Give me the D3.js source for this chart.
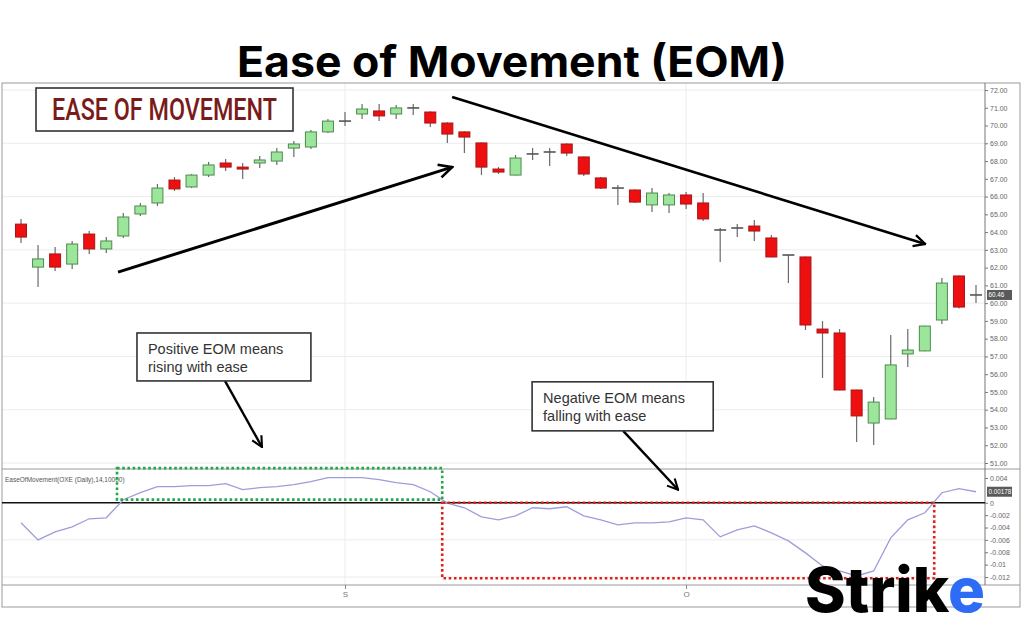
<!DOCTYPE html>
<html><head><meta charset="utf-8">
<script src="https://cdn.jsdelivr.net/npm/d3@7"></script>
<style>body{margin:0;background:#fff}svg{display:block}</style>
</head><body><svg id="c" width="1024" height="640"></svg>
<script>
// ---------- DATA ----------
const open  = [64.45,62.03,62.77,62.20,63.89,63.05,63.78,65.02,65.64,66.93,66.54,67.21,67.89,67.66,67.89,68.00,68.73,68.79,69.64,70.25,70.65,70.82,70.65,70.99,70.76,70.14,69.64,69.02,67.55,67.21,68.40,68.51,68.96,68.23,67.05,66.48,66.37,65.53,65.53,66.09,65.64,64.12,64.23,64.34,63.67,62.71,62.60,58.54,58.32,55.11,53.25,53.48,57.14,57.31,59.05,61.53,60.46];
const high  = [64.74,63.27,63.16,63.50,64.06,63.72,65.08,65.64,66.71,67.10,67.27,67.95,68.12,67.89,68.28,68.73,69.13,69.75,70.37,70.76,71.21,71.21,71.16,71.21,70.80,70.18,69.68,69.05,67.66,68.34,68.73,68.73,69.00,68.26,67.10,66.65,66.40,66.48,66.20,66.26,66.20,64.23,64.46,64.68,63.84,62.72,62.62,58.99,58.54,55.13,54.72,58.21,58.54,58.73,61.42,61.55,61.02];
const low   = [63.39,60.91,61.81,61.92,62.77,62.82,63.67,64.91,65.47,66.31,66.48,67.10,67.44,66.99,67.61,67.78,68.23,68.68,69.58,69.97,70.37,70.25,70.37,70.59,69.92,69.02,68.45,67.21,67.27,67.19,68.06,67.72,68.28,67.16,66.43,65.53,65.64,65.13,65.08,65.30,64.62,62.32,63.72,63.50,62.58,61.13,58.49,55.79,55.09,52.18,52.01,53.46,56.40,57.29,58.83,59.70,60.01];
const close = [63.72,62.49,62.03,63.33,63.05,63.50,64.85,65.47,66.48,66.43,67.21,67.78,67.66,67.55,68.06,68.51,68.96,69.64,70.25,70.25,70.93,70.54,70.99,70.99,70.14,69.52,69.35,67.66,67.38,68.17,68.40,68.51,68.45,67.27,66.48,66.48,65.69,66.20,66.09,65.58,64.74,64.12,64.23,64.06,62.60,62.71,58.77,58.32,55.11,53.65,54.43,56.52,57.36,58.71,61.13,59.78,60.46];
// Ease of Movement, in units of 0.001
const eomMilli = [-3.24,-6.00,-4.70,-3.89,-2.59,-2.43,0.49,1.62,2.59,2.59,2.76,2.76,3.08,2.11,2.43,2.59,2.92,3.40,4.05,4.05,4.05,3.73,3.24,2.92,1.78,-0.05,-0.81,-2.27,-2.76,-2.11,-0.81,-0.97,-0.65,-2.11,-2.76,-3.57,-3.24,-3.24,-3.08,-2.43,-2.76,-5.51,-4.38,-3.73,-4.86,-6.16,-8.10,-10.21,-11.02,-11.83,-11.02,-5.67,-2.76,-1.62,1.62,2.27,1.78];
const priceTicks = d3.range(51, 73, 1);
const eomTicks = [0.004, 0, -0.002, -0.004, -0.006, -0.008, -0.01, -0.012];
const monthTickIdx = [19, 39];
const monthLabels = ["S", "O"];
const title = "Ease of Movement (EOM)";
const badge = "EASE OF MOVEMENT";
const eomLabel = "EaseOfMovement(OXE (Daily),14,10000)";
const posNote = ["Positive EOM means", "rising with ease"];
const negNote = ["Negative EOM means", "falling with ease"];

// ---------- SCALES ----------
const svg = d3.select("#c");
const n = close.length;
const x = d3.scaleLinear().domain([0, n - 1]).range([21, 976]);
const yP = d3.scaleLinear().domain([51, 72]).range([463, 90]);
const yE = d3.scaleLinear().domain([-0.012, 0.004]).range([577, 478]);
const eom = eomMilli.map(v => v / 1000);
const axisX = 985, L = 2, R = 1020, topY = 83, sep = 469, eBot = 585, fBot = 607;

svg.append("rect").attr("width", 1024).attr("height", 640).attr("fill", "#fff");

// title
svg.append("text").attr("x", 512).attr("y", 77).attr("text-anchor", "middle")
  .attr("font-family", "Inter, 'Open Sans', sans-serif").attr("font-weight", 700)
  .attr("font-size", 43).attr("fill", "#000")
  .attr("textLength", 550).attr("lengthAdjust", "spacingAndGlyphs").text(title);

// grid
const g = svg.append("g");
g.selectAll(".hg").data(d3.range(51, 73, 3)).join("line")
  .attr("x1", L).attr("x2", axisX).attr("y1", d => yP(d)).attr("y2", d => yP(d))
  .attr("stroke", "#ececec");
g.selectAll(".eg").data([-0.006, -0.012]).join("line")
  .attr("x1", L).attr("x2", axisX).attr("y1", d => yE(d)).attr("y2", d => yE(d))
  .attr("stroke", "#ececec");
g.selectAll(".vg").data(monthTickIdx).join("line")
  .attr("x1", d => x(d)).attr("x2", d => x(d)).attr("y1", topY).attr("y2", eBot)
  .attr("stroke", "#ececec");

// frame
const fr = svg.append("g").attr("stroke", "#9a9a9a").attr("fill", "none");
fr.append("rect").attr("x", L).attr("y", topY).attr("width", R - L).attr("height", fBot - topY);
fr.append("line").attr("x1", L).attr("x2", R).attr("y1", sep).attr("y2", sep);
fr.append("line").attr("x1", L).attr("x2", R).attr("y1", eBot).attr("y2", eBot);

// price axis
const pa = svg.append("g").attr("transform", `translate(${axisX},0)`)
  .call(d3.axisRight(yP).tickValues(priceTicks).tickFormat(d3.format(".2f")).tickSize(3).tickPadding(2));
pa.select(".domain").attr("d", `M0,${topY}V${sep}`).attr("stroke", "#777");
pa.selectAll("line").attr("stroke", "#777");
pa.selectAll("text").attr("font-family", "'Liberation Sans', Arial, sans-serif").attr("font-size", 7).attr("fill", "#666");

// eom axis
const fmtE = d => d === 0 ? "0" : String(+d.toFixed(3));
const ea = svg.append("g").attr("transform", `translate(${axisX},0)`)
  .call(d3.axisRight(yE).tickValues(eomTicks).tickFormat(fmtE).tickSize(3).tickPadding(2));
ea.select(".domain").attr("d", `M0,${sep}V${eBot}`).attr("stroke", "#777");
ea.selectAll("line").attr("stroke", "#777");
ea.selectAll("text").attr("font-family", "'Liberation Sans', Arial, sans-serif").attr("font-size", 7).attr("fill", "#666");

// bottom axis
const ba = svg.append("g").attr("transform", `translate(0,${eBot})`)
  .call(d3.axisBottom(x).tickValues(monthTickIdx).tickFormat((d, i) => monthLabels[i]).tickSize(4).tickPadding(2));
ba.select(".domain").remove();
ba.selectAll("line").attr("stroke", "#888");
ba.selectAll("text").attr("font-family", "'Liberation Sans', Arial, sans-serif").attr("font-size", 8).attr("fill", "#777");

// candles
const idx = d3.range(n);
const cg = svg.append("g");
cg.selectAll(".wick").data(idx).join("line")
  .attr("x1", i => x(i)).attr("x2", i => x(i))
  .attr("y1", i => yP(high[i])).attr("y2", i => yP(low[i]))
  .attr("stroke", "#6a6a6a").attr("stroke-width", 1.2);
const bodies = idx.filter(i => open[i] !== close[i]);
cg.selectAll(".body").data(bodies).join("rect")
  .attr("x", i => x(i) - 5.5).attr("width", 11)
  .attr("y", i => yP(Math.max(open[i], close[i])))
  .attr("height", i => Math.max(1.5, Math.abs(yP(open[i]) - yP(close[i]))))
  .attr("fill", i => close[i] > open[i] ? "#9be69b" : "#ee1010")
  .attr("stroke", i => close[i] > open[i] ? "#4e8a4e" : "#a81414").attr("stroke-width", 1);
cg.selectAll(".doji").data(idx.filter(i => open[i] === close[i])).join("line")
  .attr("x1", i => x(i) - 6).attr("x2", i => x(i) + 6)
  .attr("y1", i => yP(close[i])).attr("y2", i => yP(close[i]))
  .attr("stroke", "#555").attr("stroke-width", 1.6);

// zero line
svg.append("line").attr("x1", L).attr("x2", axisX).attr("y1", yE(0)).attr("y2", yE(0))
  .attr("stroke", "#111").attr("stroke-width", 1.5);

// eom line
svg.append("path").datum(idx)
  .attr("d", d3.line().x(i => x(i)).y(i => yE(eom[i])))
  .attr("fill", "none").attr("stroke", "#9d9ddb").attr("stroke-width", 1.3);

// eom label
svg.append("text").attr("x", 5).attr("y", 482).attr("font-family", "'Liberation Sans', Arial, sans-serif")
  .attr("font-size", 6.5).attr("fill", "#555").text(eomLabel);

// dotted zones (annotation, in data units)
svg.append("rect").attr("x", x(5.63)).attr("y", yE(0.0056)).attr("width", x(24.7) - x(5.63))
  .attr("height", yE(0.0005) - yE(0.0056))
  .attr("fill", "none").attr("stroke", "#22a845").attr("stroke-width", 2.6).attr("stroke-dasharray", "2.6,2.6");
svg.append("rect").attr("x", x(24.7)).attr("y", yE(0)).attr("width", x(53.55) - x(24.7))
  .attr("height", yE(-0.0122) - yE(0))
  .attr("fill", "none").attr("stroke", "#e0201c").attr("stroke-width", 2.6).attr("stroke-dasharray", "2.6,2.6");

// value highlights
function tag(y, txt) {
  svg.append("rect").attr("x", axisX + 2).attr("y", y - 5).attr("width", 25).attr("height", 10).attr("fill", "#5a5a5a");
  svg.append("text").attr("x", axisX + 3.5).attr("y", y + 2.5).attr("font-family", "'Liberation Sans', Arial, sans-serif")
    .attr("font-size", 6.3).attr("fill", "#fff").text(txt);
}
tag(yP(close[n - 1]), close[n - 1].toFixed(2));
tag(yE(eom[n - 1]), eom[n - 1].toFixed(5));

// badge
svg.append("rect").attr("x", 36).attr("y", 88).attr("width", 257).attr("height", 43)
  .attr("fill", "#fff").attr("stroke", "#333").attr("stroke-width", 1.6);
svg.append("text").attr("x", 52).attr("y", 120).attr("font-family", "Roboto, 'Liberation Sans', sans-serif")
  .attr("font-weight", 500).attr("font-size", 31).attr("fill", "#7a1b1b")
  .attr("textLength", 225).attr("lengthAdjust", "spacingAndGlyphs").text(badge);

// arrows
const defs = svg.append("defs");
defs.append("marker").attr("id", "ah").attr("viewBox", "0 0 10 10").attr("refX", 9).attr("refY", 5)
  .attr("markerWidth", 5.5).attr("markerHeight", 5.5).attr("orient", "auto").attr("markerUnits", "strokeWidth")
  .append("path").attr("d", "M1,1 L9,5 L1,9").attr("fill", "none").attr("stroke", "#000").attr("stroke-width", 1.6);
function arrow(x1, y1, x2, y2, w) {
  svg.append("line").attr("x1", x1).attr("y1", y1).attr("x2", x2).attr("y2", y2)
    .attr("stroke", "#000").attr("stroke-width", w).attr("marker-end", "url(#ah)");
}
arrow(x(5.69), yP(61.75), x(25.28), yP(67.66), 3);
arrow(x(25.28), yP(71.61), x(53.02), yP(63.33), 2.6);

// callouts
function callout(bx1, by1, bx2, by2, lines, ax1, ay1, ax2, ay2) {
  arrow(ax1, ay1, ax2, ay2, 2.4);
  svg.append("rect").attr("x", bx1).attr("y", by1).attr("width", bx2 - bx1).attr("height", by2 - by1)
    .attr("fill", "#fff").attr("stroke", "#333").attr("stroke-width", 1.6);
  lines.forEach((t, k) => svg.append("text").attr("x", bx1 + 11).attr("y", by1 + 21 + k * 18)
    .attr("font-family", "'Liberation Sans', Arial, sans-serif").attr("font-size", 14.5).attr("fill", "#333").text(t));
}
callout(x(6.8), yP(58.32), x(17.0), yP(55.62), posNote, x(11.96), yP(55.62), x(14.13), yP(51.9));
callout(x(29.97), yP(55.57), x(40.59), yP(52.81), negNote, x(35.31), yP(52.81), x(38.53), yE(0.0021));

// logo
const logo = svg.append("text").attr("x", 805).attr("y", 612)
  .attr("font-family", "Inter, 'Open Sans', sans-serif").attr("font-weight", 800).attr("font-size", 62)
  .attr("textLength", 180).attr("lengthAdjust", "spacingAndGlyphs");
logo.append("tspan").attr("fill", "#000").text("Strik");
logo.append("tspan").attr("fill", "#2f6cf5").text("e");
</script></body></html>
